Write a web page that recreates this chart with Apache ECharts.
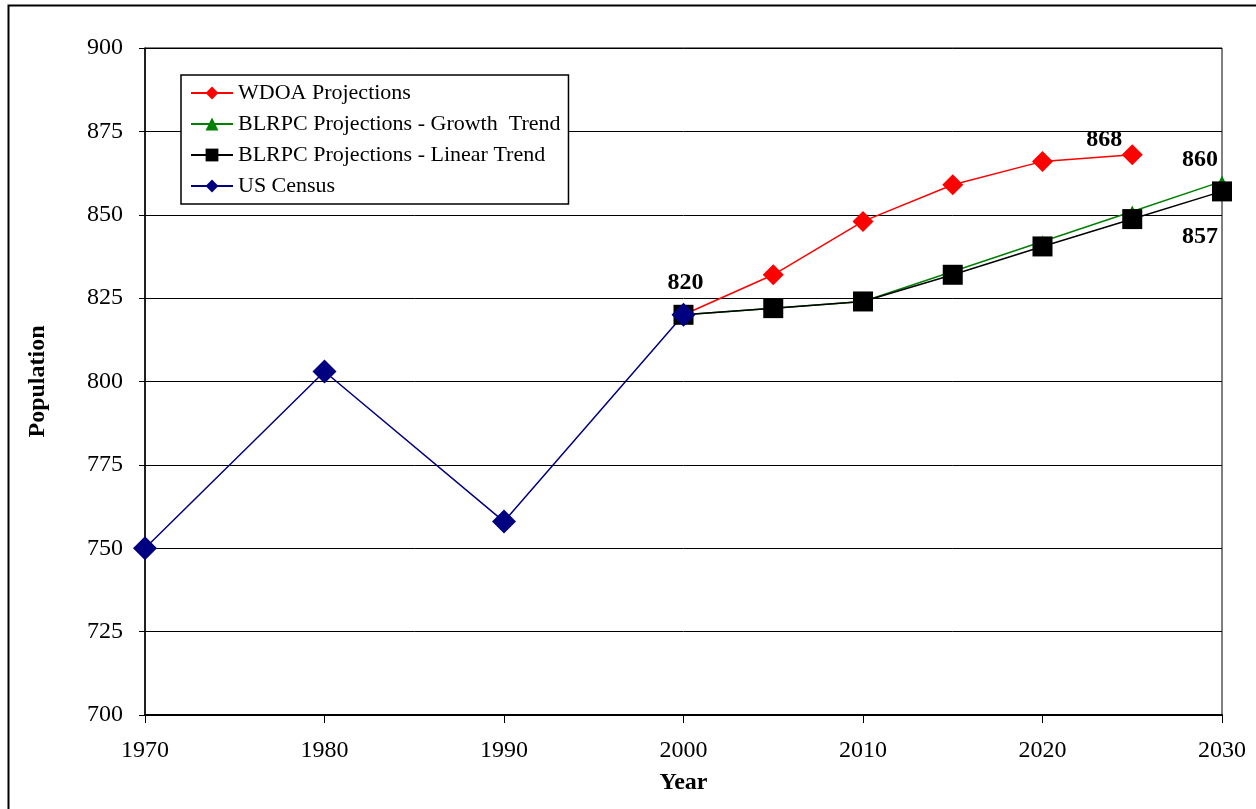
<!DOCTYPE html>
<html>
<head>
<meta charset="utf-8">
<script src="https://cdn.jsdelivr.net/npm/echarts@6/dist/echarts.min.js"></script>
<style>
  html, body { margin: 0; padding: 0; background: #fff; }
  #chart { width: 1256px; height: 809px; }
</style>
</head>
<body>
<div id="chart"></div>
<script>
// Population history and projections
const censusYears = [1970, 1980, 1990, 2000];
const censusValues = [750, 803, 758, 820];

const projYears = [2000, 2005, 2010, 2015, 2020, 2025, 2030];
const wdoaValues = [820, 832, 848, 859, 866, 868];          // through 2025
const growthValues = [820, 822, 824, 833, 842, 851, 860];
const linearValues = [820, 822, 824, 832, 840.5, 848.7, 857];

const seriesNames = [
  'WDOA Projections',
  'BLRPC Projections - Growth  Trend',
  'BLRPC Projections - Linear Trend',
  'US Census'
];

const FONT = '"Liberation Serif", "Times New Roman", serif';
// square rotated 45 degrees
const DIAMOND = 'path://M0,-1L1,0L0,1L-1,0Z';

// which points carry a value label, with label offset
function pairs(xs, ys, labelled) {
  return ys.map((v, i) => {
    const item = { value: [xs[i], v] };
    const lab = labelled[xs[i]];
    if (lab) {
      item.label = {
        show: true,
        position: 'inside',
        offset: lab,
        formatter: p => String(p.value[1]),
        fontFamily: FONT, fontWeight: 'bold', fontSize: 24, color: '#000'
      };
    }
    return item;
  });
}

const chart = echarts.init(document.getElementById('chart'), null, { renderer: 'canvas' });

chart.setOption({
  backgroundColor: '#fff',
  animation: false,
  grid: {
    left: 145, right: 34, top: 48, bottom: 94,
    show: true, borderColor: '#000', borderWidth: 1, backgroundColor: 'transparent'
  },
  graphic: [{
    type: 'rect',
    left: 6, top: 3,
    shape: { width: 1300, height: 900 },
    style: { fill: 'none', stroke: '#000', lineWidth: 2 },
    silent: true
  }],
  legend: {
    orient: 'vertical',
    left: 181, top: 75,
    width: 385,
    padding: [7, 8, 7, 9],
    itemGap: 9,
    itemWidth: 42, itemHeight: 16,
    backgroundColor: '#fff',
    borderColor: '#000', borderWidth: 1.5,
    textStyle: { fontFamily: FONT, fontSize: 22, color: '#000' },
    data: seriesNames
  },
  xAxis: {
    type: 'value',
    min: 1970, max: 2030, interval: 10,
    name: 'Year',
    nameLocation: 'middle', nameGap: 56,
    nameTextStyle: { fontFamily: FONT, fontWeight: 'bold', fontSize: 24, color: '#000' },
    axisLine: { lineStyle: { color: '#000', width: 2 } },
    axisTick: { show: true, length: 8, lineStyle: { color: '#000' } },
    axisLabel: {
      fontFamily: FONT, fontSize: 24, color: '#000', margin: 24,
      formatter: v => String(v)
    },
    splitLine: { show: false }
  },
  yAxis: {
    type: 'value',
    min: 700, max: 900, interval: 25,
    name: 'Population',
    nameLocation: 'middle', nameGap: 95, nameRotate: 90,
    nameTextStyle: { fontFamily: FONT, fontWeight: 'bold', fontSize: 24, color: '#000' },
    axisLine: { show: true, lineStyle: { color: '#000', width: 1.5 } },
    axisTick: { show: true, length: 6, lineStyle: { color: '#000' } },
    axisLabel: { fontFamily: FONT, fontSize: 24, color: '#000', margin: 22 },
    splitLine: { show: true, lineStyle: { color: '#000', width: 1 } }
  },
  series: [
    {
      name: seriesNames[0], type: 'line',
      data: pairs(projYears, wdoaValues, { 2025: [-28, -15] }),
      symbol: DIAMOND, symbolSize: 21,
      lineStyle: { color: '#ff0000', width: 1.5 },
      itemStyle: { color: '#ff0000' }
    },
    {
      name: seriesNames[1], type: 'line',
      data: pairs(projYears, growthValues, { 2030: [-22, -22] }),
      symbol: 'triangle', symbolSize: 12,
      lineStyle: { color: '#008000', width: 1.5 },
      itemStyle: { color: '#008000' }
    },
    {
      name: seriesNames[2], type: 'line',
      data: pairs(projYears, linearValues, { 2030: [-22, 45] }),
      symbol: 'rect', symbolSize: 20,
      lineStyle: { color: '#000', width: 1.5 },
      itemStyle: { color: '#000' }
    },
    {
      name: seriesNames[3], type: 'line',
      data: pairs(censusYears, censusValues, { 2000: [2, -32] }),
      symbol: DIAMOND, symbolSize: 24,
      lineStyle: { color: '#000080', width: 1.5 },
      itemStyle: { color: '#000080' }
    }
  ]
});
</script>
</body>
</html>
